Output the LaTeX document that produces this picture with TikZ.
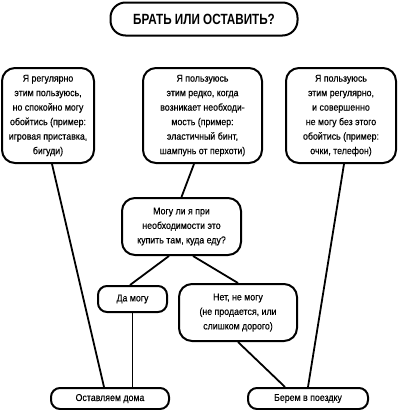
\documentclass[tikz,border=0pt]{standalone}
\usepackage{fontspec}
\setmainfont{Liberation Sans}[FakeStretch=0.88,FakeBold=0.4]
\newfontfamily\titlefont{Liberation Sans Bold}[FakeStretch=0.79]
\begin{document}
\begin{tikzpicture}[x=1pt,y=-1pt,
  box/.style={draw=black,line width=2pt,rounded corners=13pt,align=center,inner sep=0pt,
    font=\fontsize{10}{14.5}\selectfont},
  link/.style={draw=black,line width=1.8pt}]
\useasboundingbox (0,0) rectangle (406,410);
\node[box,minimum width=187pt,minimum height=33pt,rounded corners=15pt,font=\titlefont\fontsize{14.8}{16}\selectfont] (title) at (204,19) {БРАТЬ ИЛИ ОСТАВИТЬ?};
\node[box,minimum width=92pt,minimum height=95pt] (lbox) at (48,115.5) {Я регулярно\\этим пользуюсь,\\но спокойно могу\\обойтись (пример:\\игровая приставка,\\бигуди)};
\node[box,minimum width=119pt,minimum height=95pt] (cbox) at (202.5,115.5) {Я пользуюсь\\этим редко, когда\\возникает необходи-\\мость (пример:\\эластичный бинт,\\шампунь от перхоти)};
\node[box,minimum width=110pt,minimum height=95pt] (rbox) at (341,115.5) {Я пользуюсь\\этим регулярно,\\и совершенно\\не могу без этого\\обойтись (пример:\\очки, телефон)};
\node[box,minimum width=119pt,minimum height=57pt] (q) at (181.5,226.5) {Могу ли я при\\необходимости это\\купить там, куда еду?};
\node[box,minimum width=69pt,minimum height=26pt,rounded corners=9pt] (da) at (132.5,299) {Да могу};
\node[box,minimum width=118pt,minimum height=57pt] (net) at (238,312.5) {Нет, не могу\\(не продается, или\\слишком дорого)};
\node[box,minimum width=118pt,minimum height=21pt,rounded corners=9pt] (stay) at (110,398.5) {Оставляем дома};
\node[box,minimum width=120pt,minimum height=21pt,rounded corners=9pt] (take) at (308,398.5) {Берем в поездку};
\draw[link] ([xshift=4pt]lbox.south) -- ([xshift=-6pt]stay.north);
\draw[link] ([xshift=-8.5pt]cbox.south) -- (q.north);
\draw[link] ([xshift=3pt]rbox.south) -- (take.north);
\draw[link] ([xshift=-12.5pt]q.south) -- ([xshift=-2.5pt]da.north);
\draw[link] ([xshift=11.5pt]q.south) -- (net.north);
\draw[link] (da.south) -- (da.south |- stay.north);
\draw[link] (net.south) -- ([xshift=-23pt]take.north);
\end{tikzpicture}
\end{document}
